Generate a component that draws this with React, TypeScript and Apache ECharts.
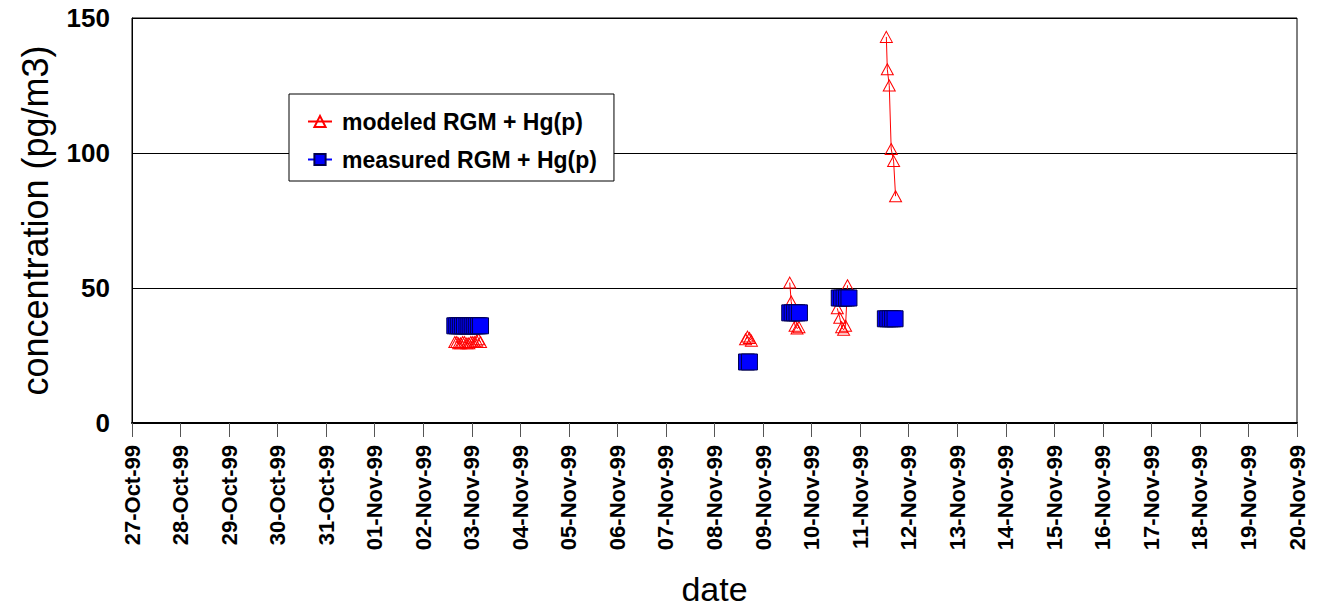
import React, { useEffect, useRef } from "react";
import * as echarts from "echarts";

// x values are days since 27-Oct-99 00:00
const tickLabels = [
  "27-Oct-99", "28-Oct-99", "29-Oct-99", "30-Oct-99", "31-Oct-99",
  "01-Nov-99", "02-Nov-99", "03-Nov-99", "04-Nov-99", "05-Nov-99",
  "06-Nov-99", "07-Nov-99", "08-Nov-99", "09-Nov-99", "10-Nov-99",
  "11-Nov-99", "12-Nov-99", "13-Nov-99", "14-Nov-99", "15-Nov-99",
  "16-Nov-99", "17-Nov-99", "18-Nov-99", "19-Nov-99", "20-Nov-99",
];

const modeledDays = [
  6.65, 6.69, 6.73, 6.77, 6.81, 6.85, 6.9, 6.94, 6.98, 7.02, 7.06, 7.1, 7.14, 7.18,
  7.5,
  12.64, 12.68, 12.72, 12.76,
  13.0,
  13.55, 13.58, 13.62, 13.66, 13.7, 13.74,
  14.0,
  14.53, 14.58, 14.62, 14.66, 14.7, 14.74,
  15.0,
  15.54, 15.56, 15.6, 15.64, 15.69, 15.73,
];
const modeledValues: (number | null)[] = [
  30, 30, 29.5, 29.5, 30, 30, 29.5, 29.5, 30, 30, 30, 30.5, 31, 30,
  null,
  31, 32, 31.5, 30.5,
  null,
  52, 45, 40, 36, 35, 35.5,
  null,
  42.5, 39, 35.5, 34.5, 36, 51,
  null,
  143, 131, 125, 101.5, 97, 84,
];

const measuredDays = [
  6.65, 6.69, 6.73, 6.77, 6.81, 6.85, 6.9, 6.94, 6.98, 7.02, 7.06, 7.1, 7.14, 7.18,
  7.5,
  12.66, 12.72,
  13.0,
  13.55, 13.6, 13.65, 13.7, 13.75,
  14.0,
  14.57, 14.62, 14.67, 14.72, 14.77,
  15.0,
  15.52, 15.57, 15.62, 15.67, 15.72,
];
const measuredValues: (number | null)[] = [
  36, 36, 36, 36, 36, 36, 36, 36, 36, 36, 36, 36, 36, 36,
  null,
  22.6, 22.6,
  null,
  40.8, 40.8, 40.8, 40.8, 40.8,
  null,
  46.3, 46.3, 46.3, 46.3, 46.3,
  null,
  38.6, 38.6, 38.6, 38.6, 38.6,
];

const pair = (xs: number[], ys: (number | null)[]) =>
  xs.map((x, i) => [x, ys[i] === null ? "-" : ys[i]]);

export default function App() {
  const ref = useRef<HTMLDivElement>(null);
  useEffect(() => {
    if (!ref.current) return;
    const chart = echarts.init(ref.current, undefined, { renderer: "svg" });
    const font = "Arial, 'Liberation Sans', sans-serif";
    chart.setOption({
      animation: false,
      backgroundColor: "#ffffff",
      textStyle: { fontFamily: font },
      grid: {
        left: 132,
        right: 23,
        top: 18,
        bottom: 185,
        show: true,
        borderColor: "#000000",
        borderWidth: 1,
        containLabel: false,
        outerBoundsMode: "none",
      },
      legend: {
        left: 289,
        top: 94,
        orient: "vertical",
        backgroundColor: "#ffffff",
        borderColor: "#000000",
        borderWidth: 1,
        borderRadius: 0,
        padding: [16, 17, 10, 18],
        itemGap: 15,
        itemWidth: 24,
        itemHeight: 14,
        textStyle: {
          fontFamily: font,
          fontSize: 23,
          fontWeight: "bold",
          color: "#000",
          padding: [0, 0, 0, 5],
        },
        data: ["modeled RGM + Hg(p)", "measured RGM + Hg(p)"],
      },
      xAxis: {
        type: "value",
        min: 0,
        max: 24,
        interval: 1,
        name: "date",
        nameLocation: "middle",
        nameGap: 148,
        nameTextStyle: { fontFamily: font, fontSize: 34, lineHeight: 36, color: "#000" },
        axisLine: { show: true, onZero: false, lineStyle: { color: "#000", width: 2 } },
        axisTick: { show: true, length: 14, lineStyle: { color: "#555", width: 1 } },
        splitLine: { show: false },
        axisLabel: {
          rotate: 90,
          margin: 22,
          fontFamily: font,
          fontSize: 22,
          fontWeight: "bold",
          color: "#000",
          formatter: (v: number) => tickLabels[Math.round(v)] ?? "",
        },
      },
      yAxis: {
        type: "value",
        min: 0,
        max: 150,
        interval: 50,
        name: "concentration (pg/m3)",
        nameLocation: "middle",
        nameGap: 79,
        nameTextStyle: { fontFamily: font, fontSize: 36, color: "#000" },
        axisLine: { show: true, lineStyle: { color: "#000", width: 1 } },
        axisTick: { show: false },
        splitLine: { show: true, lineStyle: { color: "#000", width: 1 } },
        axisLabel: {
          margin: 22,
          fontFamily: font,
          fontSize: 26,
          fontWeight: "bold",
          color: "#000",
        },
      },
      series: [
        {
          name: "modeled RGM + Hg(p)",
          type: "line",
          data: pair(modeledDays, modeledValues),
          connectNulls: false,
          symbol: "triangle",
          symbolSize: [12, 11],
          showAllSymbol: true,
          lineStyle: { color: "#ff0000", width: 1 },
          itemStyle: { color: "rgba(255,255,255,0)", borderColor: "#ff0000", borderWidth: 1 },
          z: 2,
        },
        {
          name: "measured RGM + Hg(p)",
          type: "line",
          data: pair(measuredDays, measuredValues),
          connectNulls: false,
          symbol: "rect",
          symbolSize: [16, 16],
          showAllSymbol: true,
          lineStyle: { color: "#0000ff", width: 1 },
          itemStyle: { color: "#0000ff", borderColor: "#000050", borderWidth: 1 },
          z: 3,
        },
      ],
    });
    return () => chart.dispose();
  }, []);
  return (
    <div
      ref={ref}
      style={{ position: "absolute", left: 0, top: 0, width: 1320, height: 608 }}
    />
  );
}
